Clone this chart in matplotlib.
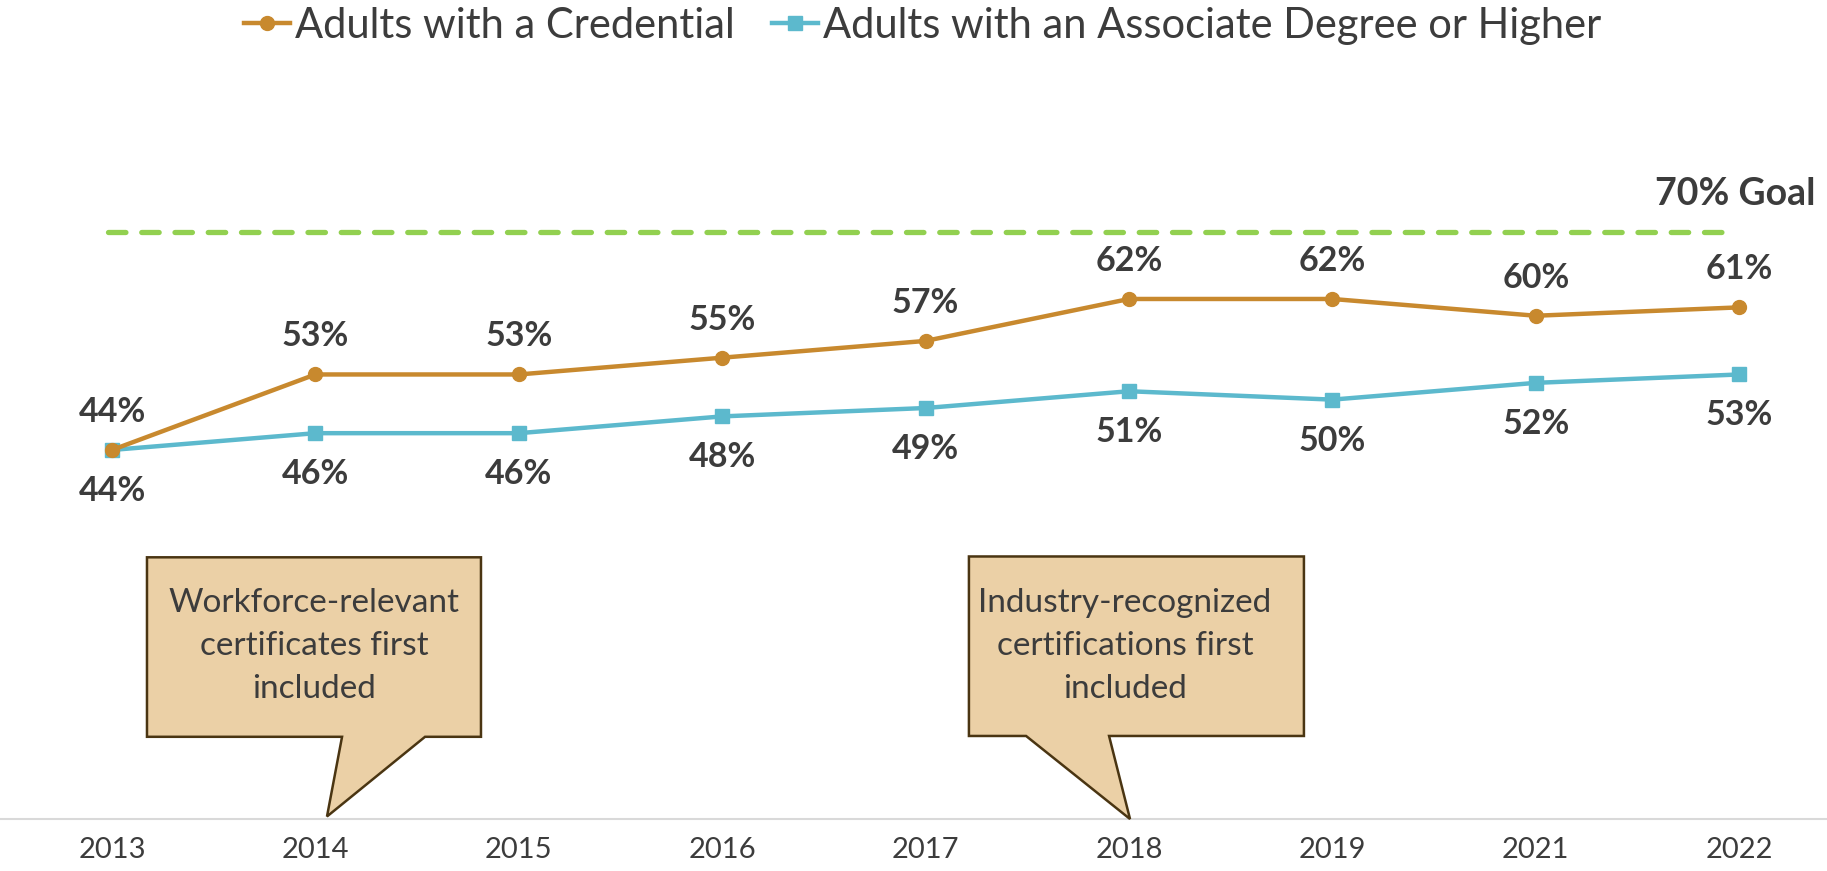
import matplotlib
matplotlib.use("Agg")
import matplotlib.pyplot as plt
from matplotlib.patches import Polygon
from matplotlib.lines import Line2D

plt.rcParams['font.family'] = ['Lato', 'DejaVu Sans']

years = ["2013", "2014", "2015", "2016", "2017", "2018", "2019", "2021", "2022"]
credential = [44, 53, 53, 55, 57, 62, 62, 60, 61]
associate = [44, 46, 46, 48, 49, 51, 50, 52, 53]
goal = 70
series_names = ["Adults with a Credential", "Adults with an Associate Degree or Higher"]
callout_texts = ["Workforce-relevant\ncertificates first\nincluded",
                 "Industry-recognized\ncertifications first\nincluded"]

C_CRED = "#C8892E"
C_ASSOC = "#5CB9CD"
C_GOAL = "#92D050"
C_TEXT = "#3C3C3C"
C_FILL = "#EBD0A6"
C_EDGE = "#4A3512"

W, H, DPI = 1827, 871, 100
fig = plt.figure(figsize=(W / DPI, H / DPI), dpi=DPI)
ax = fig.add_axes([0, 1 - 819 / H, 1, (819 - 148) / H])
x = list(range(len(years)))
ax.set_xlim(-112 / 203.4, (W - 112) / 203.4)
ax.set_ylim(0, 80)

for s in ["top", "right", "left"]:
    ax.spines[s].set_visible(False)
ax.spines["bottom"].set_color("#D9D9D9")
ax.spines["bottom"].set_linewidth(1.5)
ax.set_yticks([])
ax.set_xticks(x)
ax.set_xticklabels(years, fontsize=21, color=C_TEXT)
ax.tick_params(axis="x", length=0, pad=13)

# goal line
ax.plot([x[0] - 0.02, x[-1] - 0.01], [goal, goal], color=C_GOAL, lw=3.8,
        linestyle=(0, (3.3, 3.0)), dash_capstyle="round", zorder=2)
ax.annotate(f"{goal}% Goal", xy=(x[-1], goal), xytext=(76, 38),
            textcoords="offset pixels", ha="right", va="center",
            fontsize=27, fontweight="bold", color=C_TEXT)

ax.plot(x, credential, color=C_CRED, lw=3.2, marker="o", markersize=10, zorder=4)
ax.plot(x, associate, color=C_ASSOC, lw=3.2, marker="s", markersize=10, zorder=3)

for xi, v in zip(x, credential):
    ax.annotate(f"{v}%", xy=(xi, v), xytext=(0, 38), textcoords="offset pixels",
                ha="center", va="center", fontsize=24.5, fontweight="bold", color=C_TEXT)
for xi, v in zip(x, associate):
    ax.annotate(f"{v}%", xy=(xi, v), xytext=(0, -41), textcoords="offset pixels",
                ha="center", va="center", fontsize=24.5, fontweight="bold", color=C_TEXT)

# callouts (data coordinates)
def callout(left, right, top, bottom, b1, b2, tip, text, tx, ty):
    pts = [(left, top), (right, top), (right, bottom), (b2, bottom), tip,
           (b1, bottom), (left, bottom)]
    poly = Polygon(pts, closed=True, facecolor=C_FILL, edgecolor=C_EDGE,
                   lw=1.8, zorder=5, clip_on=False)
    ax.add_patch(poly)
    ax.text(tx, ty, text, ha="center", va="center", fontsize=24, color=C_TEXT,
            linespacing=1.55, zorder=6)

callout(0.172, 1.814, 31.2, 9.8, 1.131, 1.539, (1.057, 0.3), callout_texts[0], 0.993, 20.6)
callout(4.213, 5.860, 31.3, 9.9, 4.494, 4.902, (5.005, 0.0), callout_texts[1], 4.98, 20.6)

handles = [Line2D([], [], color=C_CRED, lw=3.2, marker="o", markersize=10),
           Line2D([], [], color=C_ASSOC, lw=3.2, marker="s", markersize=10)]
fig.legend(handles, series_names, loc="center", bbox_to_anchor=(0.505, 1 - 26 / H),
           ncol=2, frameon=False, fontsize=30, handlelength=1.1, handletextpad=0.12,
           columnspacing=0.9, labelcolor=C_TEXT)

fig.savefig("out.png", dpi=DPI)
